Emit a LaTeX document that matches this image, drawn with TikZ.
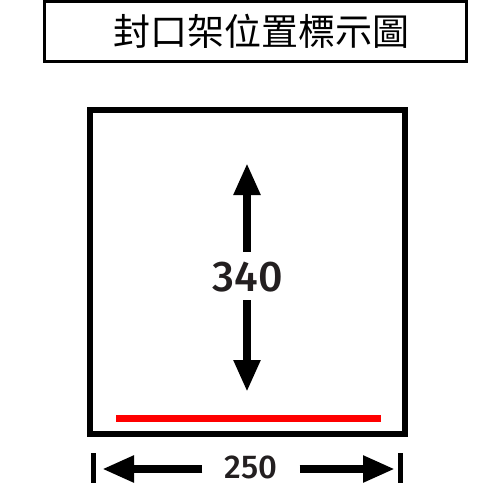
\documentclass[tikz,border=0pt]{standalone}
\usepackage{fontspec}
\usepackage{xcolor}
\usepackage{tikz}
\usetikzlibrary{arrows.meta,positioning}
\newfontfamily\cjkfont{Noto Sans CJK TC}
\newfontfamily\numfont{Fira Sans Medium}
\definecolor{inkdark}{HTML}{231F20}
\definecolor{markred}{HTML}{FF0000}

\begin{document}
\begin{tikzpicture}[x=1pt,y=-1pt,
    dimshaft/.style={line width=8pt,-{Triangle[length=32pt,width=25pt]}},
    dimtick/.style={line width=5pt},
    dimlabel/.style={inner sep=0pt,text=inkdark,font=\numfont\fontsize{43}{46}\selectfont}]
    \useasboundingbox (0,0) rectangle (500,500);
    % title box
    \node[draw,line width=3pt,minimum width=422pt,minimum height=60pt,inner sep=0pt,
          font=\cjkfont\fontsize{37}{40}\selectfont] (title) at (255.5,31.5) {\hspace*{11pt}封口架位置標示圖};
    % frame
    \node[draw,line width=6pt,minimum width=315pt,minimum height=324pt] (frame) at (247.5,272) {};
    % height
    \node[dimlabel,text height=31pt,text depth=0pt,minimum height=48pt] (height) at (248,276) {340};
    \coordinate (htop) at (247,163);
    \coordinate (hbot) at (247,392);
    \draw[dimshaft] (height.north -| htop) -- (htop);
    \draw[dimshaft] (height.south -| hbot) -- (hbot);
    % seal bar
    \coordinate (barl) at (116,418.5);
    \coordinate (barr) at (381,418.5);
    \draw[markred,line width=7pt] (barl) -- (barr);
    % width
    \node[dimlabel,font=\numfont\fontsize{33}{36}\selectfont,minimum width=97pt] (width) at (251,467) {250};
    \coordinate (wleft) at (102,469);
    \coordinate (wright) at (395,469);
    \draw[dimshaft] (width.west |- wleft) -- (wleft);
    \draw[dimshaft] (width.east |- wright) -- (wright);
    \coordinate (tickl) at (93.5,468);
    \coordinate (tickr) at (400.5,468);
    \draw[dimtick] (tickl) ++(0,-15) -- ++(0,30);
    \draw[dimtick] (tickr) ++(0,-15) -- ++(0,30);
\end{tikzpicture}
\end{document}
